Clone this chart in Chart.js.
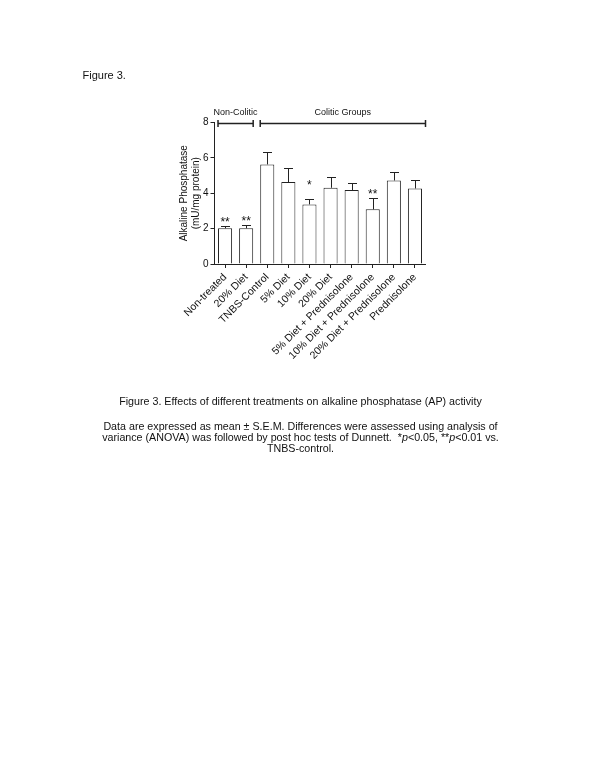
<!DOCTYPE html>
<html>
<head>
<meta charset="utf-8">
<script src="https://cdn.jsdelivr.net/npm/chart.js@4.4.1/dist/chart.umd.min.js"></script>
<style>
  html, body { margin: 0; padding: 0; background: #fff; }
  body { width: 600px; height: 776px; position: relative; overflow: hidden;
         font-family: "Liberation Sans", Arial, Helvetica, sans-serif; color: #111; }
  #app-chart { position: absolute; left: 0; top: 0; }
  #fig-label { position: absolute; left: 82.5px; top: 69px; font-size: 11px; line-height: 13px; }
  .caption { position: absolute; left: 0; width: 601px; text-align: center; font-size: 10.7px; line-height: 11.3px; }
</style>
</head>
<body>
<canvas id="app-chart" width="600" height="776"></canvas>
<div id="fig-label">Figure 3.</div>
<div class="caption" style="top:395.5px">Figure 3. Effects of different treatments on alkaline phosphatase (AP) activity</div>
<div class="caption" style="top:420.5px">Data are expressed as mean ± S.E.M. Differences were assessed using analysis of<br>variance (ANOVA) was followed by post hoc tests of Dunnett.&nbsp; *<i>p</i>&lt;0.05, **<i>p</i>&lt;0.01 vs.<br>TNBS-control.</div>
<script>
const categories = [
  "Non-treated", "20% Diet", "TNBS-Control", "5% Diet", "10% Diet", "20% Diet",
  "5% Diet + Prednisolone", "10% Diet + Prednisolone", "20% Diet + Prednisolone", "Prednisolone"
];
const means = [2.02, 2.02, 5.63, 4.63, 3.37, 4.31, 4.18, 3.09, 4.72, 4.27];
const sems = [0.13, 0.16, 0.68, 0.77, 0.32, 0.62, 0.38, 0.64, 0.46, 0.49];
const yTicks = [0, 2, 4, 6, 8];

// significance vs TNBS-control, and the y value each mark sits on
const sigMarks = ["**", "**", "", "", "*", "", "", "**", "", ""];
const sigLevels = [2.15, 2.18, null, null, 4.25, null, null, 3.73, null, null];

const groupLabels = ["Non-Colitic", "Colitic Groups"];
const groupStart = [0, 2];
const groupEnd = [1, 9];
const groupLevel = 8;

const FONT = '"Liberation Sans", Arial, Helvetica, sans-serif';
Chart.defaults.font.family = FONT;
Chart.defaults.color = "#111";

const annotations = {
  id: "annotations",
  afterDatasetsDraw(chart) {
    const { ctx, scales: { y }, chartArea } = chart;
    const bars = chart.getDatasetMeta(0).data;
    ctx.save();
    ctx.strokeStyle = "#222";
    ctx.fillStyle = "#111";
    ctx.lineWidth = 1;

    bars.forEach((bar, i) => {
      const cx = Math.round(bar.x) + 0.5;
      const top = y.getPixelForValue(means[i]);
      const tip = Math.round(y.getPixelForValue(means[i] + sems[i])) + 0.5;
      ctx.beginPath();
      ctx.moveTo(cx, top);
      ctx.lineTo(cx, tip);
      ctx.moveTo(cx - 4.5, tip);
      ctx.lineTo(cx + 4.5, tip);
      ctx.stroke();

      if (sigMarks[i]) {
        ctx.font = "12px " + FONT;
        ctx.textAlign = "center";
        ctx.textBaseline = "alphabetic";
        ctx.fillText(sigMarks[i], bar.x, y.getPixelForValue(sigLevels[i]));
      }
    });

    // group brackets over the bars
    const by = Math.round(y.getPixelForValue(groupLevel)) + 0.5;
    ctx.lineWidth = 1.5;
    groupLabels.forEach((label, g) => {
      const a = bars[groupStart[g]];
      const b = bars[groupEnd[g]];
      const left = a.x - a.width / 2;
      const right = groupEnd[g] === categories.length - 1 ? chartArea.right : b.x + b.width / 2;
      ctx.beginPath();
      ctx.moveTo(left, by);
      ctx.lineTo(right, by);
      ctx.moveTo(left, by - 3.5);
      ctx.lineTo(left, by + 3.5);
      ctx.moveTo(right, by - 3.5);
      ctx.lineTo(right, by + 3.5);
      ctx.stroke();
      ctx.font = "9px " + FONT;
      ctx.textAlign = "center";
      ctx.textBaseline = "alphabetic";
      ctx.fillText(label, (left + right) / 2, by - 9);
    });
    ctx.restore();
  },
};

const ctx = document.querySelector("#app-chart").getContext("2d");

new Chart(ctx, {
  type: "bar",
  data: {
    labels: categories,
    datasets: [
      {
        data: means,
        backgroundColor: "#fff",
        borderColor: "#222",
        borderWidth: 1,
        barPercentage: 0.667,
        categoryPercentage: 1,
      },
    ],
  },
  options: {
    responsive: false,
    animation: false,
    devicePixelRatio: 1,
    layout: { padding: { left: 150, right: 174.5, top: 122.5, bottom: 0 } },
    plugins: { legend: { display: false }, tooltip: { enabled: false } },
    scales: {
      x: {
        grid: { drawOnChartArea: false, tickLength: 4, color: "#222", offset: false },
        border: { color: "#222", width: 1 },
        ticks: { autoSkip: false, minRotation: 45, maxRotation: 45, padding: 3, font: { size: 10.5 } },
        afterFit(s) {
          s.height = 512;
          s.paddingLeft = 0;
          s.paddingRight = 0;
        },
      },
      y: {
        min: 0,
        max: 8,
        afterBuildTicks(s) {
          s.ticks = yTicks.map((v) => ({ value: v }));
        },
        ticks: { padding: 2, font: { size: 10 } },
        grid: { drawOnChartArea: false, tickLength: 4, color: "#222" },
        border: { color: "#222", width: 1 },
        title: {
          display: true,
          text: ["Alkaline Phosphatase", "(mU/mg protein)"],
          font: { size: 10, lineHeight: 1.15 },
          padding: { top: 28.75, bottom: 0 },
        },
        afterFit(s) {
          s.width = 64.5;
        },
      },
    },
  },
  plugins: [annotations],
});
</script>
</body>
</html>
